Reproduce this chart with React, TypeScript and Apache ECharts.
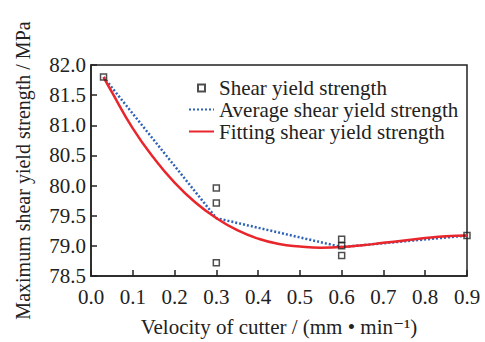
import React, { useEffect, useRef } from "react";
import * as echarts from "echarts";

const FONT = '"Liberation Serif", "Times New Roman", "DejaVu Serif", serif';

// Measured shear yield strength points
const pointVelocity = [0.03, 0.3, 0.3, 0.3, 0.6, 0.6, 0.6, 0.9];
const pointStrength = [81.8, 79.96, 79.71, 78.72, 79.11, 79.0, 78.84, 79.17];

// Average shear yield strength
const avgVelocity = [0.03, 0.3, 0.6, 0.9];
const avgStrength = [81.8, 79.46, 78.98, 79.17];

// Fitting shear yield strength
const fitVelocity = [0.03, 0.05, 0.1, 0.15, 0.2, 0.25, 0.3, 0.35, 0.4, 0.45, 0.5, 0.55, 0.6, 0.65, 0.7, 0.75, 0.8, 0.85, 0.9];
const fitStrength = [81.8, 81.55, 80.95, 80.46, 80.05, 79.72, 79.46, 79.26, 79.12, 79.03, 78.99, 78.97, 78.98, 79.01, 79.05, 79.09, 79.13, 79.16, 79.17];

const names = ["Shear yield strength", "Average shear yield strength", "Fitting shear yield strength"];

export default function App() {
  const ref = useRef<HTMLDivElement>(null);
  useEffect(() => {
    if (!ref.current) return;
    const chart = echarts.init(ref.current, null, { renderer: "svg" });
    const textColor = "#222";
    chart.setOption({
      animation: false,
      backgroundColor: "#fff",
      grid: {
        left: 91,
        right: 18,
        top: 65,
        bottom: 64,
        show: true,
        borderColor: "#222",
        borderWidth: 1.5,
      },
      legend: {
        data: [
          { name: names[0], icon: "path://M0,0 M25,14 M9,4 h7 v7 h-7 z" },
          { name: names[1], itemStyle: { opacity: 0 } },
          { name: names[2], itemStyle: { opacity: 0 } },
        ],
        left: 183,
        top: 72,
        orient: "vertical",
        itemWidth: 25,
        itemHeight: 14,
        itemGap: 1,
        selectedMode: false,
        textStyle: { fontFamily: FONT, fontSize: 21, color: textColor },
      },
      xAxis: {
        type: "value",
        min: 0,
        max: 0.9,
        interval: 0.1,
        name: "Velocity of cutter / (mm • min⁻¹)",
        nameLocation: "middle",
        nameGap: 40,
        nameTextStyle: { fontFamily: FONT, fontSize: 21, color: textColor },
        axisLine: { lineStyle: { color: "#222", width: 1.5 } },
        axisTick: { inside: true, length: 6, lineStyle: { color: "#222", width: 1.5 } },
        axisLabel: {
          fontFamily: FONT,
          fontSize: 21,
          color: textColor,
          margin: 10,
          formatter: (v: number) => v.toFixed(1),
        },
        splitLine: { show: false },
      },
      yAxis: {
        type: "value",
        min: 78.5,
        max: 82,
        interval: 0.5,
        name: "Maximum shear yield strength / MPa",
        nameLocation: "middle",
        nameGap: 58,
        nameTextStyle: { fontFamily: FONT, fontSize: 20, color: textColor },
        axisLine: { show: true, lineStyle: { color: "#222", width: 1.5 } },
        axisTick: { show: true, inside: true, length: 6, lineStyle: { color: "#222", width: 1.5 } },
        axisLabel: {
          fontFamily: FONT,
          fontSize: 21,
          color: textColor,
          margin: 5,
          formatter: (v: number) => v.toFixed(1),
        },
        splitLine: { show: false },
      },
      series: [
        {
          name: names[2],
          type: "line",
          data: fitVelocity.map((x, i) => [x, fitStrength[i]]),
          smooth: true,
          symbol: "none",
          lineStyle: { color: "#e8262b", width: 2.5 },
          itemStyle: { color: "#e8262b" },
          z: 3,
        },
        {
          name: names[1],
          type: "line",
          data: avgVelocity.map((x, i) => [x, avgStrength[i]]),
          symbol: "none",
          lineStyle: { color: "#2e62b8", width: 2.5, type: [2, 2] },
          itemStyle: { color: "#2e62b8" },
          z: 2,
        },
        {
          name: names[0],
          type: "scatter",
          data: pointVelocity.map((x, i) => [x, pointStrength[i]]),
          symbol: "rect",
          symbolSize: 6,
          itemStyle: { color: "rgba(255,255,255,0)", borderColor: "#222", borderWidth: 1.5 },
          z: 4,
        },
      ],
    });
    return () => chart.dispose();
  }, []);
  return <div ref={ref} style={{ width: 485, height: 342, position: "absolute", left: 0, top: 0 }} />;
}
